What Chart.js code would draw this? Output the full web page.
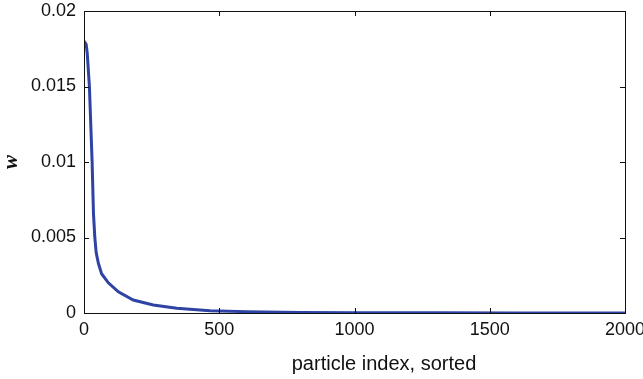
<!DOCTYPE html>
<html>
<head>
<meta charset="utf-8">
<script src="https://cdn.jsdelivr.net/npm/chart.js@4/dist/chart.umd.min.js"></script>
<style>
  html, body { margin: 0; padding: 0; background: #fff; }
  #wrap { width: 643px; height: 379px; }
</style>
</head>
<body>
<div id="wrap"><canvas id="chart" width="643" height="379"></canvas></div>
<script>
// =======================
// Data
// =======================

const particleIndex = [0, 8, 12, 20, 30, 35, 40, 45, 53, 65, 90, 127, 182, 256, 343, 466, 600, 800, 1000, 1300, 1600, 2000];
const weights = [0.0180, 0.0178, 0.0172, 0.0150, 0.0100, 0.0066, 0.0050, 0.0040, 0.0033, 0.0026, 0.0020, 0.0014,
                 0.00086, 0.00053, 0.00031, 0.00015, 0.00009, 0.00004, 0.00002, 0.00001, 0.000005, 0];

const xTicks = [0, 500, 1000, 1500, 2000];
const xTickLabels = ["0", "500", "1000", "1500", "2000"];
const yTicks = [0, 0.005, 0.01, 0.015, 0.02];
const yTickLabels = ["0", "0.005", "0.01", "0.015", "0.02"];

const xTitle = "particle index, sorted";
const yTitle = "w";


// =======================
// Plugins: MATLAB-ish box, inner ticks, axis titles
// =======================

const boxTicks = {
  id: "boxTicks",
  afterDatasetsDraw(chart) {
    const { ctx, chartArea: a, scales } = chart;
    const len = 5;
    ctx.save();
    ctx.strokeStyle = "#111";
    ctx.lineWidth = 1;
    ctx.strokeRect(a.left + 0.5, a.top + 0.5, a.right - a.left, a.bottom - a.top);
    ctx.beginPath();
    xTicks.forEach(v => {
      const px = Math.round(scales.x.getPixelForValue(v)) + 0.5;
      ctx.moveTo(px, a.bottom); ctx.lineTo(px, a.bottom - len);
      ctx.moveTo(px, a.top); ctx.lineTo(px, a.top + len);
    });
    yTicks.forEach(v => {
      const py = Math.round(scales.y.getPixelForValue(v)) + 0.5;
      ctx.moveTo(a.left, py); ctx.lineTo(a.left + len, py);
      ctx.moveTo(a.right, py); ctx.lineTo(a.right - len, py);
    });
    ctx.stroke();
    ctx.restore();
  },
  afterDraw(chart) {
    const { ctx, chartArea: a } = chart;
    ctx.save();
    ctx.fillStyle = "#111";
    ctx.font = "20px 'Liberation Sans', Arial, sans-serif";
    ctx.textAlign = "center";
    ctx.textBaseline = "middle";
    ctx.fillText(xTitle, 384, 364);

    ctx.translate(12, (a.top + a.bottom) / 2);
    ctx.rotate(-Math.PI / 2);
    ctx.font = "bold italic 21px 'Liberation Serif', 'Times New Roman', serif";
    ctx.fillText(yTitle, 0, 0);
    ctx.restore();
  }
};


// =======================
// Chart
// =======================

const tickFont = { family: "'Liberation Sans', Arial, sans-serif", size: 18 };

new Chart(document.getElementById("chart").getContext("2d"), {
  type: "line",
  data: {
    datasets: [{
      data: particleIndex.map((x, i) => ({ x, y: weights[i] })),
      borderColor: "#2e43a3",
      borderWidth: 3,
      pointRadius: 0,
      tension: 0,
      fill: false
    }]
  },
  options: {
    responsive: false,
    animation: false,
    events: [],
    layout: { padding: { top: 11, right: 18, left: 0, bottom: 0 } },
    plugins: { legend: { display: false }, tooltip: { enabled: false } },
    scales: {
      x: {
        type: "linear",
        min: 0,
        max: 2000,
        afterBuildTicks: s => { s.ticks = xTicks.map(v => ({ value: v })); },
        afterFit: s => { s.height = 66; s.paddingLeft = 0; s.paddingRight = 0; },
        grid: { display: false, drawTicks: false },
        border: { display: false },
        ticks: {
          color: "#111",
          font: tickFont,
          padding: 6,
          maxRotation: 0,
          autoSkip: false,
          callback: v => xTickLabels[xTicks.indexOf(v)]
        }
      },
      y: {
        type: "linear",
        min: 0,
        max: 0.02,
        afterBuildTicks: s => { s.ticks = yTicks.map(v => ({ value: v })); },
        afterFit: s => { s.width = 84; s.paddingTop = 0; s.paddingBottom = 0; },
        grid: { display: false, drawTicks: false },
        border: { display: false },
        ticks: {
          color: "#111",
          font: tickFont,
          padding: 8,
          autoSkip: false,
          callback: v => yTickLabels[yTicks.indexOf(v)]
        }
      }
    }
  },
  plugins: [boxTicks]
});
</script>
</body>
</html>
